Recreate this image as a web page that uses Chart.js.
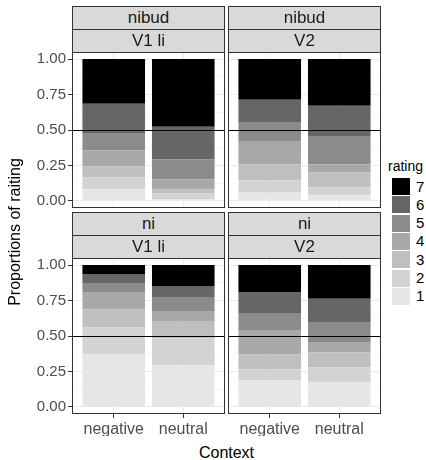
<!DOCTYPE html>
<html>
<head>
<meta charset="utf-8">
<script src="https://cdn.jsdelivr.net/npm/chart.js@4.4.1/dist/chart.umd.min.js"></script>
<style>
  body { margin: 0; background: #fff; font-family: "Liberation Sans", Arial, sans-serif; }
  #wrap { position: relative; width: 426px; height: 460px; overflow: hidden; }
  canvas { position: absolute; }
  .strip { position: absolute; box-sizing: border-box; height: 24px; width: 153px;
           background: #D9D9D9; border: 1px solid #333; color: #1A1A1A;
           text-align: center; font-size: 17px; line-height: 22px; }
  .lab { position: absolute; white-space: nowrap; }
</style>
</head>
<body>
<div id="wrap">
  <canvas id="p1" width="226" height="158" style="left:0px;top:51px"></canvas>
  <canvas id="p2" width="155" height="158" style="left:227px;top:51px"></canvas>
  <canvas id="p3" width="226" height="179" style="left:0px;top:257px"></canvas>
  <canvas id="p4" width="155" height="179" style="left:227px;top:257px"></canvas>
</div>
<script>
// data
const ratings = ['1', '2', '3', '4', '5', '6', '7'];
const contexts = ['negative', 'neutral'];
const contextX = [1, 2];
const yMajor = [0, 0.25, 0.5, 0.75, 1];
const yMinor = [0.125, 0.375, 0.625, 0.875];
const refLine = 0.5;

// proportions per rating 1..7
const nibudV1Negative = [0.082, 0.084, 0.077, 0.114, 0.117, 0.211, 0.315];
const nibudV1Neutral  = [0.012, 0.042, 0.028, 0.070, 0.140, 0.231, 0.477];
const nibudV2Negative = [0.058, 0.087, 0.112, 0.161, 0.133, 0.162, 0.287];
const nibudV2Neutral  = [0.040, 0.056, 0.105, 0.056, 0.196, 0.218, 0.329];
const niV1Negative    = [0.371, 0.190, 0.126, 0.124, 0.063, 0.063, 0.063];
const niV1Neutral     = [0.292, 0.192, 0.116, 0.071, 0.098, 0.084, 0.147];
const niV2Negative    = [0.187, 0.077, 0.105, 0.168, 0.126, 0.147, 0.190];
const niV2Neutral     = [0.173, 0.105, 0.105, 0.070, 0.140, 0.169, 0.238];

const fills = ['#E6E6E6', '#D3D3D3', '#BFBFBF', '#A8A8A8', '#8B8B8B', '#666666', '#000000'];
const family = '"Liberation Sans", Arial, sans-serif';

// black reference line + panel border
const panelFrame = {
  id: 'panelFrame',
  afterDatasetsDraw(chart) {
    const { ctx, chartArea: a, scales: { y } } = chart;
    const ym = Math.round(y.getPixelForValue(refLine)) + 0.5;
    ctx.save();
    ctx.lineWidth = 1;
    ctx.strokeStyle = '#000';
    ctx.beginPath();
    ctx.moveTo(a.left, ym);
    ctx.lineTo(a.right, ym);
    ctx.stroke();
    ctx.strokeStyle = '#333';
    ctx.strokeRect(a.left + 0.5, a.top + 0.5, a.right - a.left - 1, a.bottom - a.top - 1);
    ctx.restore();
  }
};

function makePanel(id, negative, neutral, showY, showX) {
  const series = [negative, neutral];
  new Chart(document.getElementById(id), {
    type: 'bar',
    data: {
      datasets: ratings.map((r, i) => ({
        label: r,
        data: contextX.map((x, j) => ({ x: x, y: series[j][i] })),
        backgroundColor: fills[i],
        borderWidth: 0,
        barPercentage: 0.9,
        categoryPercentage: 1
      }))
    },
    options: {
      responsive: false,
      animation: false,
      devicePixelRatio: 1,
      layout: { padding: { top: 1, right: 1, bottom: showX ? 0 : 1, left: showY ? 0 : 1 } },
      plugins: { legend: { display: false }, tooltip: { enabled: false } },
      scales: {
        x: {
          type: 'linear', min: 0.4, max: 2.6, stacked: true, offset: false,
          afterBuildTicks: s => { s.ticks = contextX.map(v => ({ value: v })); },
          afterFit: s => {
            s.height = showX ? 22 : 0;
            s.paddingLeft = 0; s.paddingRight = 0;
          },
          grid: { offset: false, color: '#EBEBEB', lineWidth: 1, drawTicks: showX, tickLength: 4, tickColor: '#333' },
          border: { display: false },
          ticks: {
            display: showX, padding: 2, color: '#4D4D4D', autoSkip: false, maxRotation: 0,
            font: { size: 16, family: family },
            callback: v => contexts[contextX.indexOf(v)]
          }
        },
        y: {
          type: 'linear', min: -0.05, max: 1.05, stacked: true,
          afterBuildTicks: s => {
            s.ticks = yMajor.concat(yMinor).sort((a, b) => a - b).map(v => ({ value: v }));
          },
          afterFit: s => {
            s.width = showY ? 72 : 0;
            s.paddingTop = 0; s.paddingBottom = 0;
          },
          grid: {
            color: c => yMajor.includes(c.tick.value) ? '#EBEBEB' : '#F4F4F4',
            lineWidth: c => yMajor.includes(c.tick.value) ? 1 : 0.6,
            drawTicks: showY, tickLength: 4,
            tickColor: c => yMajor.includes(c.tick.value) ? '#333' : 'rgba(0,0,0,0)'
          },
          border: { display: false },
          ticks: {
            display: showY, padding: 2, color: '#4D4D4D', autoSkip: false,
            font: { size: 15, family: family },
            callback: v => yMajor.includes(v) ? v.toFixed(2) : ''
          }
        }
      }
    },
    plugins: [panelFrame]
  });
}

makePanel('p1', nibudV1Negative, nibudV1Neutral, true, false);
makePanel('p2', nibudV2Negative, nibudV2Neutral, false, false);
makePanel('p3', niV1Negative, niV1Neutral, true, true);
makePanel('p4', niV2Negative, niV2Neutral, false, true);

// strips, titles, legend
const wrap = document.getElementById('wrap');
function addDiv(cls, text, css) {
  const d = document.createElement('div');
  d.className = cls;
  d.textContent = text;
  Object.assign(d.style, css);
  wrap.appendChild(d);
  return d;
}
const strips = [
  ['nibud', 'V1 li', 72, 6], ['nibud', 'V2', 228, 6],
  ['ni', 'V1 li', 72, 212], ['ni', 'V2', 228, 212]
];
strips.forEach(([a, b, x, y]) => {
  addDiv('strip', a, { left: x + 'px', top: y + 'px' });
  addDiv('strip', b, { left: x + 'px', top: (y + 23) + 'px' });
});

addDiv('lab', 'Proportions of raiting', {
  left: '-135px', top: '222px', width: '300px', textAlign: 'center',
  fontSize: '16px', lineHeight: '20px', color: '#000', transform: 'rotate(-90deg)'
});
addDiv('lab', 'Context', {
  left: '72px', top: '443px', width: '309px', textAlign: 'center',
  fontSize: '16px', lineHeight: '20px', color: '#000'
});

addDiv('lab', 'rating', { left: '388px', top: '157px', fontSize: '14px', lineHeight: '18px', color: '#000' });
ratings.slice().reverse().forEach((r, k) => {
  const top = 178 + k * 18.33;
  const key = addDiv('lab', '', { left: '392px', top: top + 'px', width: '18px', height: '17px' });
  key.style.background = fills[ratings.indexOf(r)];
  addDiv('lab', r, { left: '416px', top: (top - 0.5) + 'px', fontSize: '15px', lineHeight: '18px', color: '#000' });
});
</script>
</body>
</html>
